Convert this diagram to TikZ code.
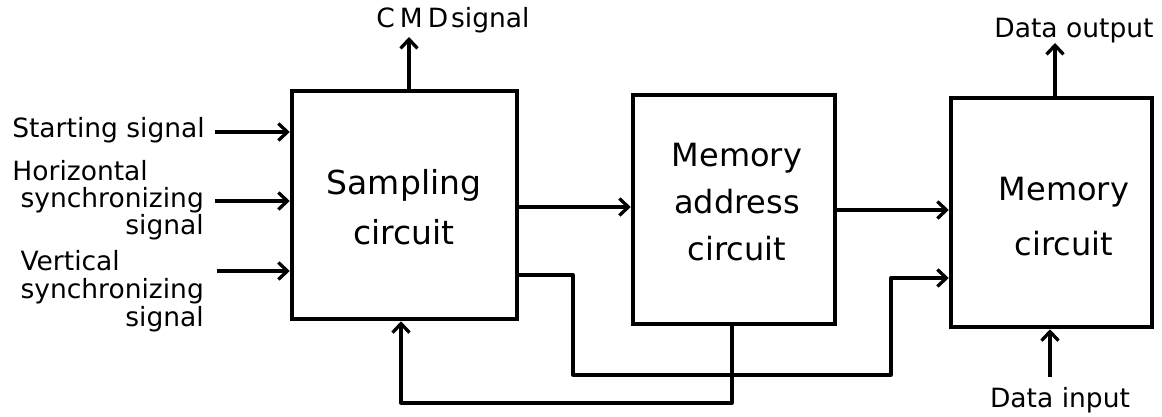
\documentclass[tikz,border=0pt]{standalone}
\usepackage{fontspec}
\setmainfont{DejaVu Sans}
\usetikzlibrary{arrows.meta}
\begin{document}
\begin{tikzpicture}[x=1pt,y=-1pt,
  box/.style={draw,line width=4.5pt,inner sep=0pt},
  conn/.style={line width=3.3pt,line join=round},
  arr/.style={conn,-{Straight Barb[length=9pt,width=17pt,line width=3.3pt]}},
  lbl/.style={inner sep=0pt,font=\fontsize{26.5}{23}\selectfont},
  big/.style={inner sep=0pt,align=center}]
\useasboundingbox (0,0) rectangle (1162,417);
% blocks
\node[box,minimum width=225pt,minimum height=228pt] (samp) at (404.5,205) {};
\node[box,minimum width=202pt,minimum height=229pt] (addr) at (734,209.5) {};
\node[box,minimum width=201pt,minimum height=229pt] (mem) at (1051.5,212.5) {};
\node[big,font=\fontsize{33}{50}\selectfont] (sampt) at (404,207) {Sampling\\circuit};
\node[big,font=\fontsize{32}{47}\selectfont] (addrt) at (737,202) {Memory\\address\\circuit};
\node[big,font=\fontsize{32}{55}\selectfont] (memt) at (1064,217) {Memory\\circuit};
% input labels
\node[lbl,anchor=base east] (lstart) at (205,138) {Starting signal};
\node[lbl,anchor=east] (lhor) at (204,201) {\begin{tabular}{@{}r@{}}Horizontal\hspace*{56pt}\\synchronizing\\signal\end{tabular}};
\node[lbl,anchor=east] (lver) at (204,292) {\renewcommand{\arraystretch}{1.12}\begin{tabular}{@{}r@{}}Vertical\hspace*{84pt}\\synchronizing\\signal\end{tabular}};
\node[lbl,anchor=base] (lcmd) at (453,28) {C\hspace{5pt}M\hspace{5pt}D\hspace{3pt}signal};
\node[lbl,anchor=base] (lout) at (1074,38) {Data output};
\node[lbl,anchor=base] (lin) at (1060,407) {Data input};
% coordinates
\coordinate (tstart) at (215,132);
\coordinate (thor) at (215,201);
\coordinate (tver) at (217,271);
\coordinate (cmdtip) at (409,37);
\coordinate (outtip) at (1055,43);
\coordinate (intail) at (1050,377);
\coordinate (y207) at (0,207);
\coordinate (y210) at (0,210);
\coordinate (l1) at (573,275);
\coordinate (l2) at (891,375);
\coordinate (l3) at (891,278);
\coordinate (f1) at (732,0);
\coordinate (f2) at (401,403);
% connectors
\draw[arr] (tstart) -- (samp.west |- tstart);
\draw[arr] (thor) -- (samp.west |- thor);
\draw[arr] (tver) -- (samp.west |- tver);
\draw[arr] (samp.north -| cmdtip) -- (cmdtip);
\draw[arr] (samp.east |- y207) -- (addr.west |- y207);
\draw[arr] (addr.east |- y210) -- (mem.west |- y210);
\draw[arr] (samp.east |- l1) -- (l1) |- (l2) -- (l3) -- (mem.west |- l3);
\draw[arr] (addr.south -| f1) |- (f2) -- (samp.south -| f2);
\draw[arr] (mem.north -| outtip) -- (outtip);
\draw[arr] (intail) -- (mem.south -| intail);
\end{tikzpicture}
\end{document}
